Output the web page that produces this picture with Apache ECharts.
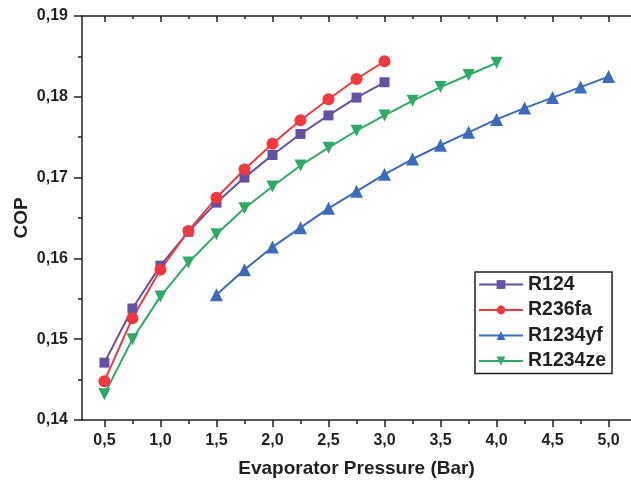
<!DOCTYPE html>
<html>
<head>
<meta charset="utf-8">
<script src="https://cdn.jsdelivr.net/npm/echarts@6/dist/echarts.min.js"></script>
<style>html,body{margin:0;padding:0;background:#fff}#c{width:631px;height:483px}</style>
</head>
<body>
<div id="c"></div>
<script>
var xR124 = [0.5, 0.75, 1.0, 1.25, 1.5, 1.75, 2.0, 2.25, 2.5, 2.75, 3.0];
var yR124 = [0.1471, 0.1538, 0.1591, 0.1633, 0.1669, 0.1700, 0.1728, 0.1754, 0.1777, 0.1799, 0.1818];
var xR236fa = [0.5, 0.75, 1.0, 1.25, 1.5, 1.75, 2.0, 2.25, 2.5, 2.75, 3.0];
var yR236fa = [0.1448, 0.1526, 0.1586, 0.1634, 0.1675, 0.1710, 0.1742, 0.1771, 0.1797, 0.1822, 0.1844];
var xR1234yf = [1.5, 1.75, 2.0, 2.25, 2.5, 2.75, 3.0, 3.25, 3.5, 3.75, 4.0, 4.25, 4.5, 4.75, 5.0];
var yR1234yf = [0.1555, 0.1586, 0.1614, 0.1638, 0.1662, 0.1683, 0.1704, 0.1723, 0.1740, 0.1756, 0.1772, 0.1786, 0.1799, 0.1812, 0.1825];
var xR1234ze = [0.5, 0.75, 1.0, 1.25, 1.5, 1.75, 2.0, 2.25, 2.5, 2.75, 3.0, 3.25, 3.5, 3.75, 4.0];
var yR1234ze = [0.1432, 0.1500, 0.1553, 0.1595, 0.1630, 0.1662, 0.1689, 0.1715, 0.1737, 0.1758, 0.1777, 0.1795, 0.1812, 0.1827, 0.1842];
var xMajorTicks = [0.5, 1.0, 1.5, 2.0, 2.5, 3.0, 3.5, 4.0, 4.5, 5.0];
var xMinorTicks = [0.75, 1.25, 1.75, 2.25, 2.75, 3.25, 3.75, 4.25, 4.75];

function pairs(xs, ys) { return xs.map(function (x, i) { return [x, ys[i]]; }); }
var FONT = '"Liberation Sans", Arial, sans-serif';
var TXT = '#231f20';
var AX = '#231f20';

var chart = echarts.init(document.getElementById('c'), null, { renderer: 'canvas' });
function xAx(pos, ticks, len, inside, labels, line) {
  return {
    type: 'value', position: pos, min: 0.3, max: 5.2,
    name: labels ? 'Evaporator Pressure (Bar)' : '',
    nameLocation: 'middle', nameGap: 39,
    nameTextStyle: { fontFamily: FONT, fontWeight: 'bold', fontSize: 19, color: TXT },
    axisLine: { show: line, onZero: false, lineStyle: { color: AX, width: 1.5 } },
    axisTick: { show: true, inside: inside, length: len, customValues: ticks, lineStyle: { color: AX, width: 1.5 } },
    axisLabel: { show: labels, customValues: xMajorTicks, margin: 13, fontFamily: FONT, fontWeight: 'bold', fontSize: 16, color: TXT,
      formatter: function (v) { return v.toFixed(1).replace('.', ','); } },
    splitLine: { show: false }
  };
}
var sym = { R124: 'rect', R236fa: 'circle', R1234yf: 'triangle', R1234ze: 'path://M0,0 L10,0 L5,8.66 Z' };
var cols = { R124: '#6550a2', R236fa: '#ee3a3e', R1234yf: '#3a6cb9', R1234ze: '#2eaa64' };
function ser(name, xs, ys, size) {
  return {
    name: name, type: 'line', xAxisIndex: 0, yAxisIndex: 0,
    data: pairs(xs, ys), symbol: sym[name], symbolSize: size,
    itemStyle: { color: cols[name] }, lineStyle: { color: cols[name], width: 2 },
    emphasis: { disabled: true }, animation: false
  };
}
chart.setOption({
  animation: false,
  backgroundColor: '#fff',
  grid: { left: 82, right: -10, top: 16, bottom: 63, containLabel: false },
  xAxis: [
    xAx('bottom', xMajorTicks, 7, false, true, true),
    xAx('bottom', xMinorTicks, 4, false, false, false),
    xAx('top', xMajorTicks, 6, true, false, true),
    xAx('top', xMinorTicks, 3, true, false, false)
  ],
  yAxis: [{
    type: 'value', min: 0.14, max: 0.19, interval: 0.01,
    name: 'COP', nameLocation: 'middle', nameGap: 51, nameRotate: 90, nameMoveOverlap: false,
    nameTextStyle: { fontFamily: FONT, fontWeight: 'bold', fontSize: 19, color: TXT },
    axisLine: { show: true, lineStyle: { color: AX, width: 1.5 } },
    axisTick: { show: true, inside: false, length: 8, lineStyle: { color: AX, width: 1.5 } },
    minorTick: { show: true, splitNumber: 2, length: 4, lineStyle: { color: AX, width: 1.5 } },
    axisLabel: { margin: 14, fontFamily: FONT, fontWeight: 'bold', fontSize: 16, color: TXT,
      formatter: function (v) { return v.toFixed(2).replace('.', ','); } },
    splitLine: { show: false }
  }],
  legend: {
    orient: 'vertical', left: 475, top: 272, width: 137,
    data: ['R124', 'R236fa', 'R1234yf', 'R1234ze'],
    backgroundColor: '#fff', borderColor: '#231f20', borderWidth: 1.5, borderRadius: 0,
    padding: [2, 6, 2, 3], itemGap: 4.5, itemWidth: 44, itemHeight: 11,
    textStyle: { fontFamily: FONT, fontWeight: 'bold', fontSize: 19.5, color: TXT, lineHeight: 21 },
    selectedMode: false
  },
  series: [
    ser('R124', xR124, yR124, 10),
    ser('R236fa', xR236fa, yR236fa, 12),
    ser('R1234yf', xR1234yf, yR1234yf, 13),
    ser('R1234ze', xR1234ze, yR1234ze, 12)
  ]
});
</script>
</body>
</html>
